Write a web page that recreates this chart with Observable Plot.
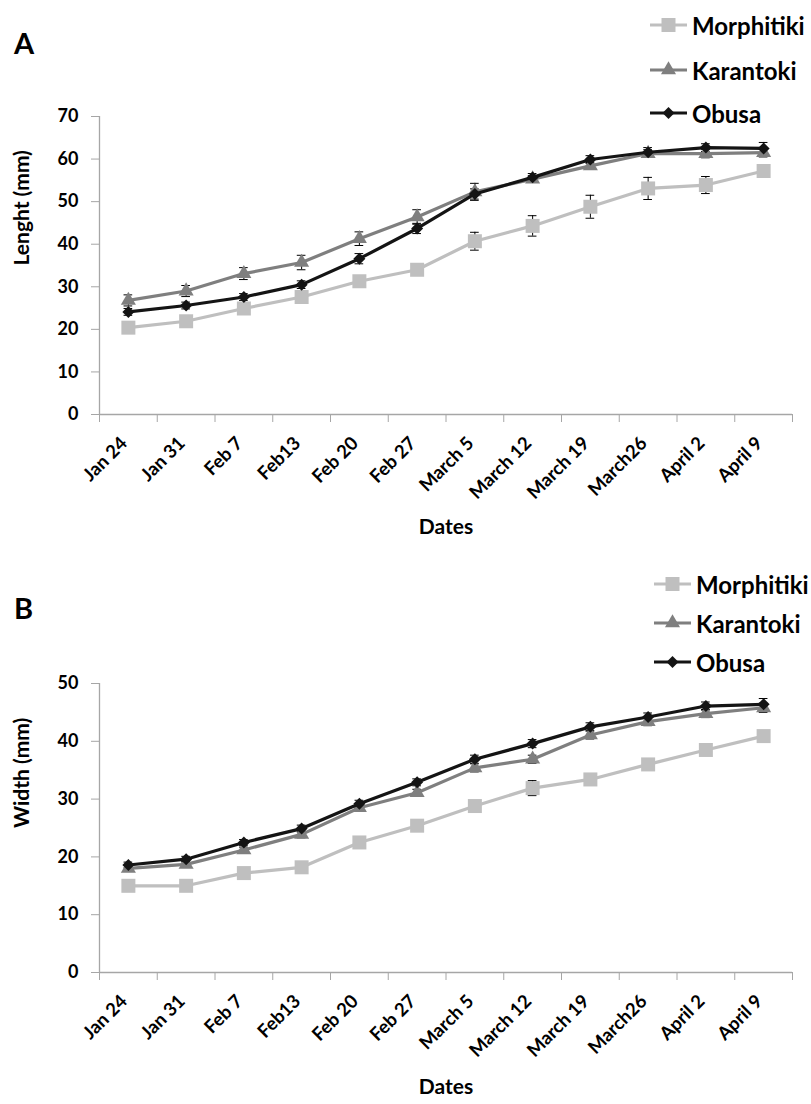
<!DOCTYPE html>
<html><head><meta charset="utf-8">
<script src="https://cdn.jsdelivr.net/npm/d3@7"></script>
<script src="https://cdn.jsdelivr.net/npm/@observablehq/plot@0.6"></script>
<style>
html,body{margin:0;padding:0;background:#fff;}
#wrap{position:relative;width:811px;height:1104px;overflow:hidden;background:#fff;font-family:Lato,"Open Sans",sans-serif;}
.panel{position:absolute;left:0;}
.tag{position:absolute;font-weight:bold;font-size:29px;line-height:1;color:#000;}
.leg{position:absolute;display:flex;align-items:center;font-weight:bold;font-size:24px;color:#000;height:24px;white-space:nowrap;}
.leg svg{margin-right:4px;flex:none;}
</style></head>
<body><div id="wrap"></div>
<script>
const dates = ["Jan 24","Jan 31","Feb 7","Feb13","Feb 20","Feb 27","March 5","March 12","March 19","March26","April 2","April 9"];
const seriesNames = ["Morphitiki","Karantoki","Obusa"];
const seriesColors = ["#bfbfbf","#7f7f7f","#141414"];
const seriesSymbols = ["square","triangle","diamond2"];
const seriesSizes = [7.9,5.6,5.4];

const lengthMorphitiki = [20.4,21.9,24.9,27.6,31.3,34.0,40.7,44.3,48.8,53.1,53.9,57.2];
const lengthKarantoki  = [26.8,29.0,33.1,35.7,41.3,46.4,52.3,55.3,58.4,61.3,61.3,61.5];
const lengthObusa      = [24.1,25.6,27.6,30.5,36.6,43.7,51.8,55.7,59.9,61.6,62.7,62.5];
const lengthErrMorphitiki = [0.6,0.6,0.7,0.8,0.8,0.9,2.1,2.4,2.7,2.6,2.0,1.2];
const lengthErrKarantoki  = [1.3,1.3,1.4,1.7,1.6,1.7,2.0,0.8,0.8,0.9,1.0,1.0];
const lengthErrObusa      = [0.8,0.8,0.8,0.9,1.2,1.2,1.2,0.9,0.9,1.1,0.9,1.4];

const widthMorphitiki = [15.0,15.0,17.2,18.2,22.5,25.4,28.8,31.9,33.4,36.0,38.5,40.9];
const widthKarantoki  = [18.0,18.7,21.2,23.9,28.5,31.1,35.4,36.9,41.1,43.4,44.8,45.8];
const widthObusa      = [18.6,19.6,22.5,24.9,29.2,32.9,36.9,39.6,42.5,44.2,46.1,46.4];
const widthErrMorphitiki = [0.4,0.4,0.5,0.5,0.6,0.6,0.7,1.3,0.8,0.7,0.7,0.8];
const widthErrKarantoki  = [0.5,0.5,0.5,0.6,0.6,0.6,0.7,0.7,0.7,0.7,0.7,0.8];
const widthErrObusa      = [0.5,0.5,0.5,0.6,0.6,0.6,0.7,0.7,0.7,0.7,0.7,1.0];

const yTicksLength = [0,10,20,30,40,50,60,70];
const yTicksWidth = [0,10,20,30,40,50];

function rowsOf(valuesList, errList){
  const rows = [];
  seriesNames.forEach((s, k) => {
    valuesList[k].forEach((v, i) => rows.push({i, date: dates[i], series: s, k, value: v, err: errList[k][i]}));
  });
  return rows;
}

function makePanel({rows, yTicks, yLabel, top, height, marginTop, marginBottom, datesDy}){
  const yMax = yTicks[yTicks.length - 1];
  const marks = [
    Plot.axisX({ticks: d3.range(-0.5, 12, 1), tickSize: 8, tickFormat: () => "", stroke: "#a6a6a6", label: null}),
    Plot.axisY({ticks: yTicks, tickSize: 8, tickPadding: 13, stroke: "#a6a6a6", fill: "#000", fontSize: 18, label: null}),
    Plot.ruleY([0], {stroke: "#a6a6a6", strokeWidth: 1.3}),
    Plot.ruleX([-0.5], {stroke: "#a6a6a6", strokeWidth: 1.3}),
    Plot.text(dates, {x: (d, i) => i, frameAnchor: "bottom", rotate: -45, textAnchor: "end", dx: 0, dy: 30, fontSize: 18.5, fill: "#000"}),
    Plot.text([yLabel], {frameAnchor: "left", rotate: -90, dx: -77, fontSize: 21, fill: "#000"}),
    Plot.text(["Dates"], {frameAnchor: "bottom", dy: datesDy, fontSize: 21, fill: "#000"}),
    Plot.ruleX(rows, {x: "i", y1: d => d.value - d.err, y2: d => d.value + d.err, stroke: "#000", strokeWidth: 1}),
    Plot.ruleY(rows, {y: d => d.value + d.err, x1: d => d.i - 0.075, x2: d => d.i + 0.075, stroke: "#000", strokeWidth: 1}),
    Plot.ruleY(rows, {y: d => d.value - d.err, x1: d => d.i - 0.075, x2: d => d.i + 0.075, stroke: "#000", strokeWidth: 1})
  ];
  seriesNames.forEach((s, k) => {
    const sub = rows.filter(d => d.series === s);
    marks.push(Plot.line(sub, {x: "i", y: "value", stroke: seriesColors[k], strokeWidth: 3.2}));
    marks.push(Plot.dot(sub, {x: "i", y: "value", symbol: () => seriesSymbols[k], fill: seriesColors[k], stroke: "none", r: seriesSizes[k]}));
  });
  const chart = Plot.plot({
    width: 811, height, marginLeft: 99, marginRight: 19, marginTop, marginBottom,
    style: {fontFamily: "Lato, 'Open Sans', sans-serif", fontWeight: "bold", background: "transparent", overflow: "visible"},
    x: {domain: [-0.5, 11.5], axis: null},
    y: {domain: [0, yMax], axis: null},
    symbol: {type: "identity"},
    marks
  });
  chart.classList.add("panel");
  chart.style.top = top + "px";
  return chart;
}

function legendItem(k, centerY, left){
  const div = document.createElement("div");
  div.className = "leg";
  div.style.top = (centerY - 12) + "px";
  div.style.left = left + "px";
  const svg = d3.create("svg").attr("width", 40).attr("height", 24);
  svg.append("line").attr("x1", 2).attr("x2", 39).attr("y1", 12).attr("y2", 12)
    .attr("stroke", seriesColors[k]).attr("stroke-width", 3.2);
  const symType = [d3.symbolSquare, d3.symbolTriangle, d3.symbolDiamond2][k];
  const size = Math.PI * seriesSizes[k] * seriesSizes[k];
  svg.append("path").attr("d", d3.symbol(symType, size)()).attr("transform", "translate(20.5,12)").attr("fill", seriesColors[k]);
  div.appendChild(svg.node());
  const span = document.createElement("span");
  span.textContent = seriesNames[k];
  div.appendChild(span);
  return div;
}

const wrap = document.getElementById("wrap");
wrap.appendChild(makePanel({
  rows: rowsOf([lengthMorphitiki, lengthKarantoki, lengthObusa], [lengthErrMorphitiki, lengthErrKarantoki, lengthErrObusa]),
  yTicks: yTicksLength, yLabel: "Lenght (mm)", top: 0, height: 560, marginTop: 116, marginBottom: 146, datesDy: 119
}));
wrap.appendChild(makePanel({
  rows: rowsOf([widthMorphitiki, widthKarantoki, widthObusa], [widthErrMorphitiki, widthErrKarantoki, widthErrObusa]),
  yTicks: yTicksWidth, yLabel: "Width (mm)", top: 560, height: 544, marginTop: 123, marginBottom: 132, datesDy: 121
}));

const tagA = document.createElement("div"); tagA.className = "tag"; tagA.textContent = "A"; tagA.style.left = "14px"; tagA.style.top = "28px"; wrap.appendChild(tagA);
const tagB = document.createElement("div"); tagB.className = "tag"; tagB.textContent = "B"; tagB.style.left = "14px"; tagB.style.top = "593px"; wrap.appendChild(tagB);

[25, 70, 113].forEach((t, k) => wrap.appendChild(legendItem(k, t, 648)));
[584, 623, 662].forEach((t, k) => wrap.appendChild(legendItem(k, t, 652)));
</script>
</body></html>
